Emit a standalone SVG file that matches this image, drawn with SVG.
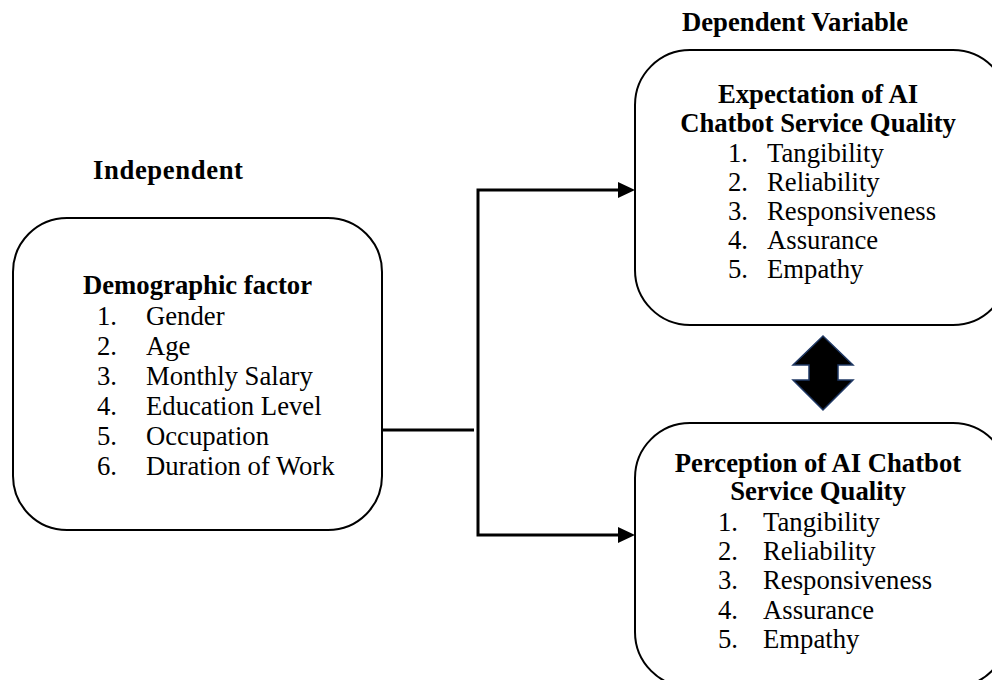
<svg xmlns="http://www.w3.org/2000/svg" width="992" height="680" viewBox="0 0 992 680">
<style>
.box{fill:#fff;stroke:#000;stroke-width:2}
text{font-family:"Liberation Serif","Times New Roman",serif;font-size:26.7px;fill:#000}
.b{font-weight:bold}
.c{text-anchor:middle}
.ln{fill:none;stroke:#000;stroke-width:3}
</style>
<text x="93" y="179" class="b" textLength="150" lengthAdjust="spacing">Independent</text>
<text x="682" y="31" class="b">Dependent Variable</text>
<g id="demographic">
<rect class="box" x="13" y="218" width="369" height="312" rx="54"/>
<text x="197.5" y="294" class="b c">Demographic factor</text>
<text x="97" y="325">1.</text><text x="146" y="325">Gender</text>
<text x="97" y="355">2.</text><text x="146" y="355">Age</text>
<text x="97" y="385">3.</text><text x="146" y="385">Monthly Salary</text>
<text x="97" y="415">4.</text><text x="146" y="415">Education Level</text>
<text x="97" y="445">5.</text><text x="146" y="445">Occupation</text>
<text x="97" y="475">6.</text><text x="146" y="475">Duration of Work</text>
</g>
<g id="expectation">
<rect class="box" x="635" y="50" width="373" height="275" rx="55"/>
<text x="818" y="103" class="b c">Expectation of AI</text>
<text x="818" y="132" class="b c">Chatbot Service Quality</text>
<text x="728" y="162">1.</text><text x="767" y="162">Tangibility</text>
<text x="728" y="191">2.</text><text x="767" y="191">Reliability</text>
<text x="728" y="220">3.</text><text x="767" y="220">Responsiveness</text>
<text x="728" y="249">4.</text><text x="767" y="249">Assurance</text>
<text x="728" y="278">5.</text><text x="767" y="278">Empathy</text>
</g>
<g id="perception">
<rect class="box" x="635" y="423" width="373" height="264" rx="55"/>
<text x="818" y="472" class="b c">Perception of AI Chatbot</text>
<text x="818" y="500" class="b c">Service Quality</text>
<text x="718" y="531">1.</text><text x="763" y="531">Tangibility</text>
<text x="718" y="560">2.</text><text x="763" y="560">Reliability</text>
<text x="718" y="589">3.</text><text x="763" y="589">Responsiveness</text>
<text x="718" y="619">4.</text><text x="763" y="619">Assurance</text>
<text x="718" y="648">5.</text><text x="763" y="648">Empathy</text>
</g>
<g id="connectors">
<line class="ln" x1="382" y1="430" x2="474" y2="430"/>
<path class="ln" d="M620,190 H478 V535 H620"/>
<path d="M618,182 L635,190 L618,198 Z" fill="#000"/>
<path d="M618,527 L635,535 L618,543 Z" fill="#000"/>
<path d="M823,336 L853,365 L838,365 L838,380 L853,380 L823,410 L793,380 L809,380 L809,365 L793,365 Z" fill="#000" stroke="#1f3864" stroke-width="1.5"/>
</g>
</svg>
